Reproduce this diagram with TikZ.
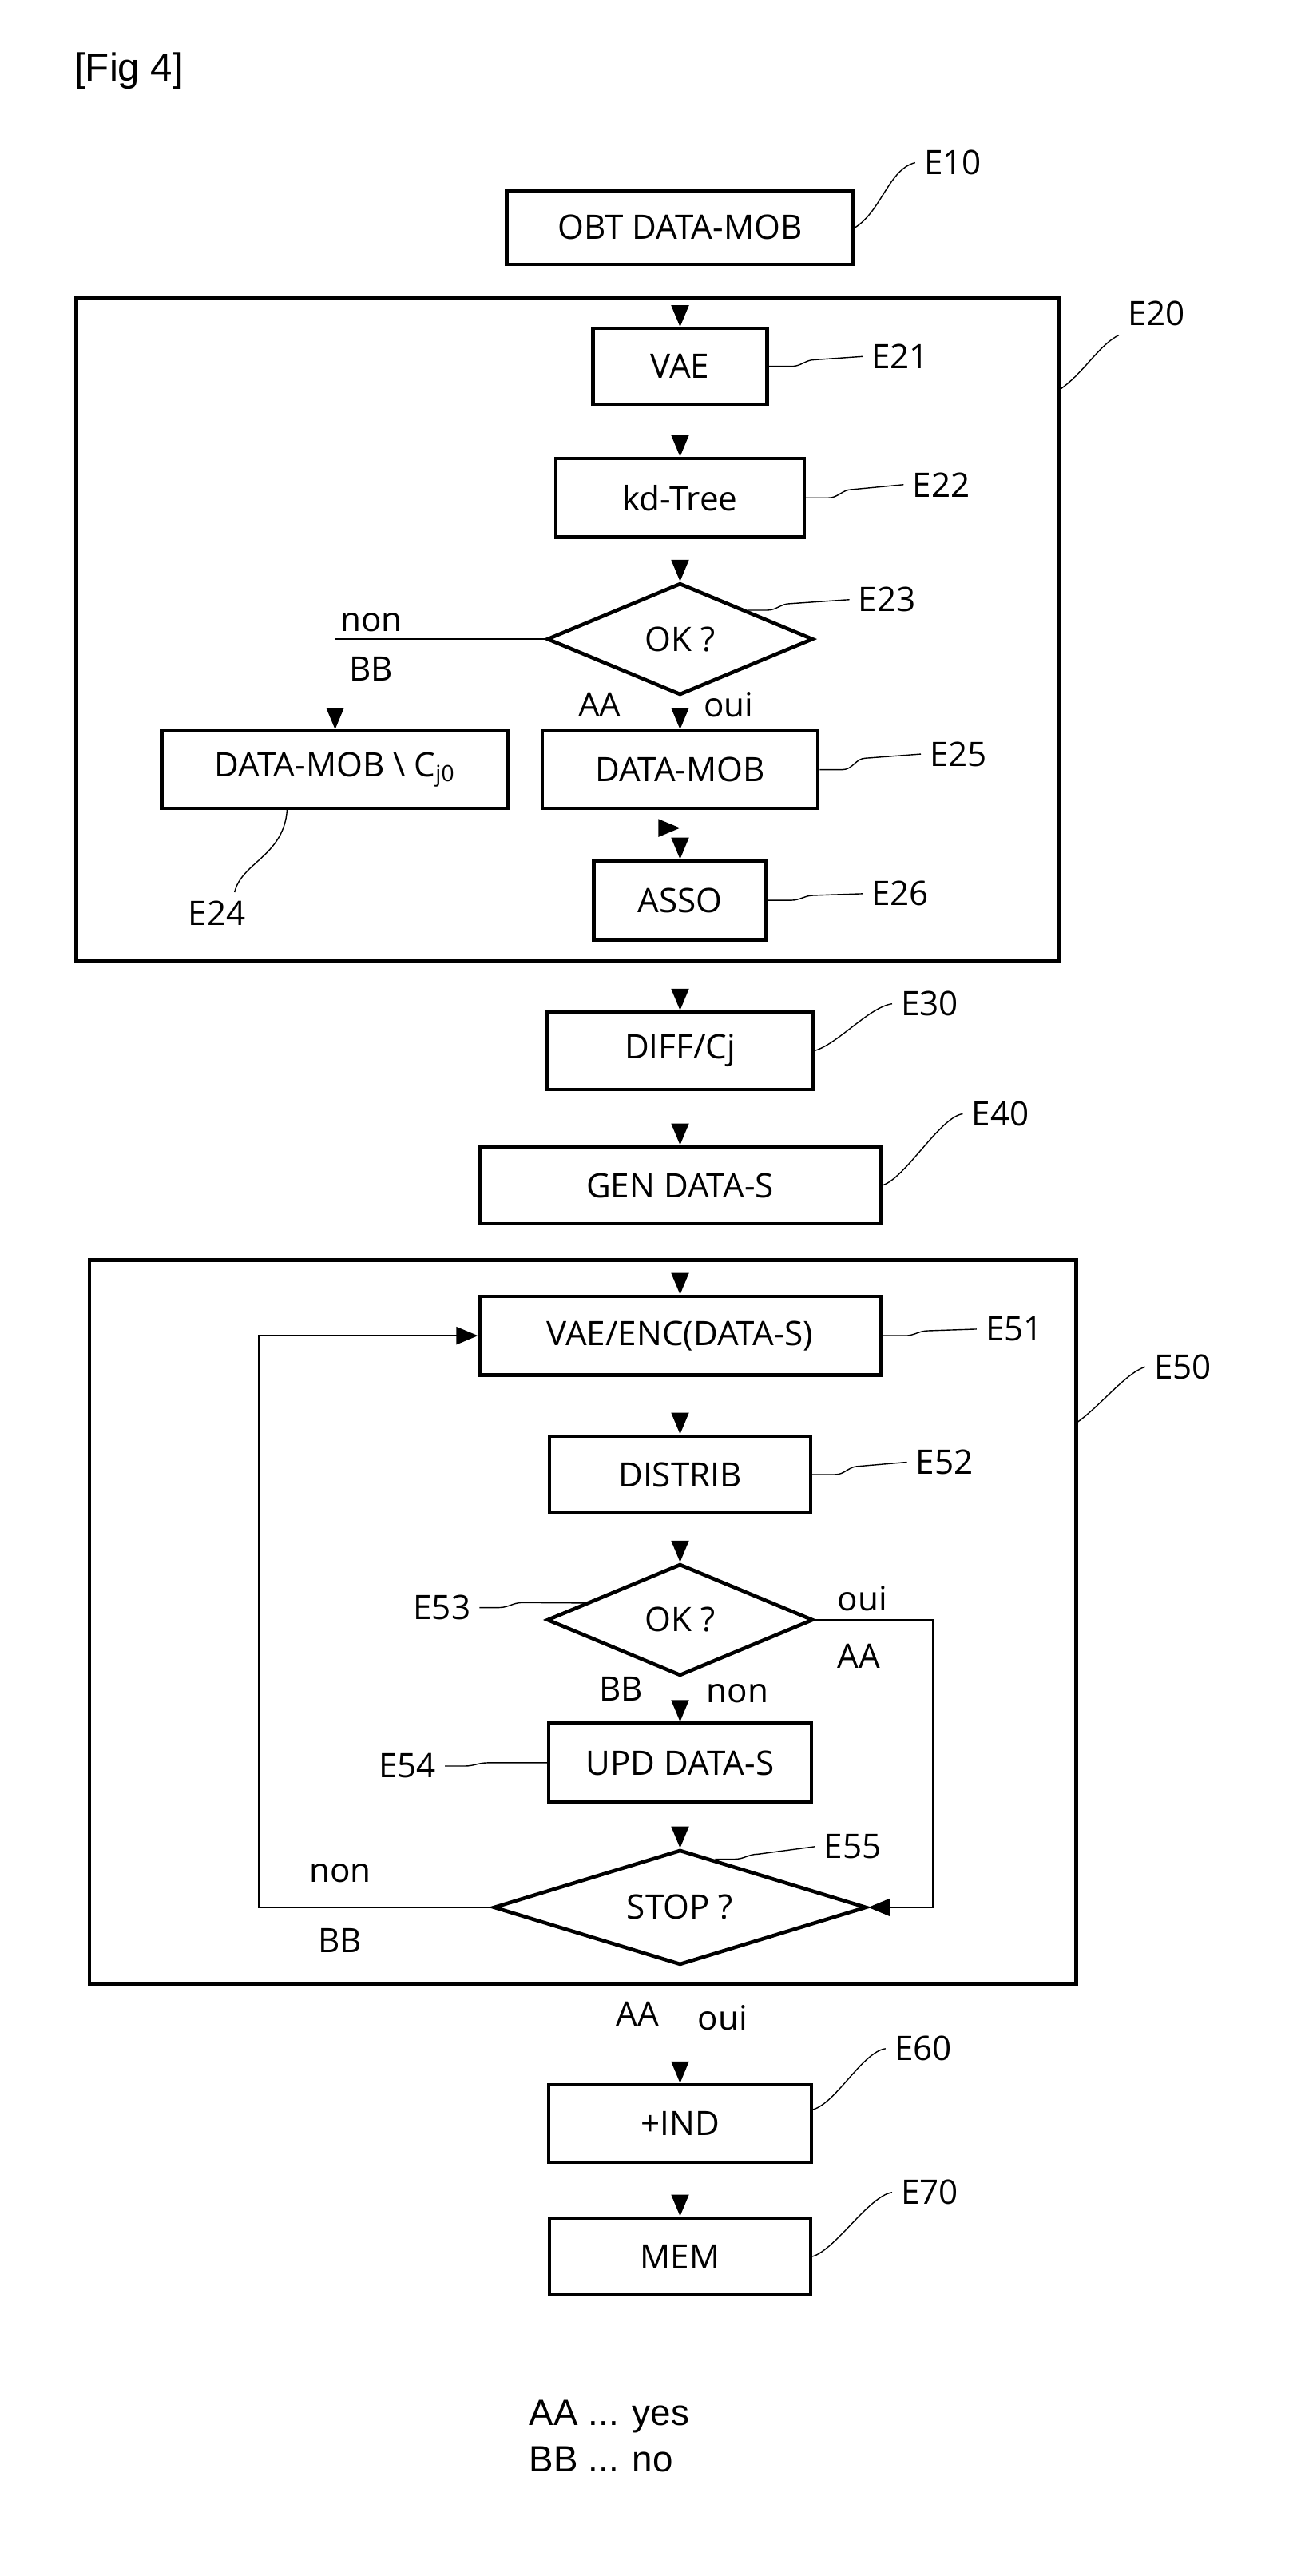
\documentclass[tikz,border=0pt]{standalone}
\usepackage{fontspec}
\setmainfont{Open Sans}
\newfontfamily\keyfont{Liberation Sans}
\usetikzlibrary{shapes.geometric,arrows.meta}
\newcommand{\pxu}{0.020556cm}
\begin{document}
\begin{tikzpicture}[x=\pxu, y=-\pxu, font=\fontsize{12}{14}\selectfont]
    \tikzstyle{stepbox}=[rectangle, draw, line width=1.2pt, inner sep=0pt]
    \tikzstyle{test}=[diamond, draw, line width=1.3pt, inner sep=0pt, aspect=2.4]
    \tikzstyle{grpframe}=[rectangle, draw, line width=1.3pt, inner sep=0pt]
    \tikzstyle{arr}=[line width=0.5pt, -{Triangle[length=0.27cm, width=0.22cm]}]
    \tikzstyle{lead}=[line width=0.4pt]
    \tikzstyle{ref}=[inner sep=3pt]
    \tikzstyle{keytext}=[inner sep=0pt, font=\keyfont\fontsize{14}{16.4}\selectfont]
    \useasboundingbox (0,0) rectangle (792,1568);

    \node[keytext, anchor=west] (figlabel) at (45,43) {[Fig 4]};

    \node[grpframe, minimum width=598.5*\pxu, minimum height=404*\pxu] (grp20) at (345.7,383) {};
    \node[grpframe, minimum width=600.5*\pxu, minimum height=440.5*\pxu] (grp50) at (354.8,987.2) {};

    \node[stepbox, minimum width=211*\pxu, minimum height=45*\pxu] (obt) at (414,138.5) {OBT DATA-MOB};
    \node[stepbox, minimum width=106*\pxu, minimum height=46*\pxu] (vae) at (414,223) {VAE};
    \node[stepbox, minimum width=151*\pxu, minimum height=48*\pxu] (kdtree) at (414,303) {kd-Tree};
    \node[test, minimum width=162*\pxu, minimum height=68*\pxu] (ok1) at (414,389) {OK ?};
    \node[stepbox, minimum width=211*\pxu, minimum height=47*\pxu] (cj0) at (204,468.5) {DATA-MOB \textbackslash{} C\textsubscript{j0}};
    \node[stepbox, minimum width=168*\pxu, minimum height=47*\pxu] (datamob) at (414,468.5) {DATA-MOB};
    \node[stepbox, minimum width=105*\pxu, minimum height=48*\pxu] (asso) at (414,548) {ASSO};
    \node[stepbox, minimum width=162*\pxu, minimum height=47*\pxu] (diff) at (414,639.5) {DIFF/Cj};
    \node[stepbox, minimum width=244*\pxu, minimum height=47*\pxu] (gen) at (414,721.5) {GEN DATA-S};
    \node[stepbox, minimum width=244*\pxu, minimum height=48*\pxu] (vaeenc) at (414,813) {VAE/ENC(DATA-S)};
    \node[stepbox, minimum width=159*\pxu, minimum height=47*\pxu] (distrib) at (414,897.5) {DISTRIB};
    \node[test, minimum width=162*\pxu, minimum height=68*\pxu] (ok2) at (414,986) {OK ?};
    \node[stepbox, minimum width=160*\pxu, minimum height=48*\pxu] (upd) at (414,1073) {UPD DATA-S};
    \node[test, minimum width=227*\pxu, minimum height=70*\pxu] (stop) at (414,1161) {STOP ?};
    \node[stepbox, minimum width=160*\pxu, minimum height=47*\pxu] (ind) at (414,1292.5) {+IND};
    \node[stepbox, minimum width=159*\pxu, minimum height=47*\pxu] (mem) at (414,1373.5) {MEM};

    \node[ref] (e10) at (580,99) {E10};
    \node[ref] (e20) at (704,191) {E20};
    \node[ref] (e21) at (548,217) {E21};
    \node[ref] (e22) at (573,295) {E22};
    \node[ref] (e23) at (540,365) {E23};
    \node[ref] (e24) at (132,556) {E24};
    \node[ref] (e25) at (583.5,459) {E25};
    \node[ref] (e26) at (548,544) {E26};
    \node[ref] (e30) at (566,611) {E30};
    \node[ref] (e40) at (609,678) {E40};
    \node[ref] (e50) at (720,832) {E50};
    \node[ref] (e51) at (617.5,809) {E51};
    \node[ref] (e52) at (575,890) {E52};
    \node[ref] (e53) at (269,978.5) {E53};
    \node[ref] (e54) at (248,1075) {E54};
    \node[ref] (e55) at (519,1124) {E55};
    \node[ref] (e60) at (562,1247) {E60};
    \node[ref] (e70) at (566,1334.5) {E70};

    \node (non1) at (226,379) {non};
    \node (bb1) at (226,407) {BB};
    \node (aa1) at (365,429) {AA};
    \node (oui1) at (443.5,429) {oui};
    \node (oui2) at (525,973) {oui};
    \node (aa2) at (523,1008) {AA};
    \node (bb2) at (378,1028) {BB};
    \node (non2) at (449,1031) {non};
    \node (non3) at (207,1140) {non};
    \node (bb3) at (207,1181) {BB};
    \node (aa3) at (388,1226) {AA};
    \node (oui3) at (440,1228) {oui};

    \coordinate (join) at (414,504);
    \coordinate (ouiturn) at (568,986);
    \coordinate (loopturn) at (157.6,1161);

    \draw[arr] (obt.south) -- (vae.north);
    \draw[arr] (vae.south) -- (kdtree.north);
    \draw[arr] (kdtree.south) -- (ok1.north);
    \draw[arr] (ok1.west) -| (cj0.north);
    \draw[arr] (ok1.south) -- (datamob.north);
    \draw[arr] (cj0.south) |- (join);
    \draw[arr] (datamob.south) -- (asso.north);
    \draw[arr] (asso.south) -- (diff.north);
    \draw[arr] (diff.south) -- (gen.north);
    \draw[arr] (gen.south) -- (vaeenc.north);
    \draw[arr] (vaeenc.south) -- (distrib.north);
    \draw[arr] (distrib.south) -- (ok2.north);
    \draw[arr] (ok2.south) -- (upd.north);
    \draw[arr] (ok2.east) -- (ouiturn) |- (stop.east);
    \draw[arr] (upd.south) -- (stop.north);
    \draw[arr] (stop.west) -- (loopturn) |- (vaeenc.west);
    \draw[arr] (stop.south) -- (ind.north);
    \draw[arr] (ind.south) -- (mem.north);

    \draw[lead] (obt.east) .. controls +(16,-10) and +(-16,4) .. (e10.west);
    \draw[lead] (grp20.26) .. controls +(14,-10) and +(-12,6) .. (e20.south west);
    \draw[lead] (vae.east) -- ++(14,0) to[out=0,in=180] ++(14,-4) -- (e21.west);
    \draw[lead] (kdtree.east) -- ++(14,0) to[out=0,in=180] ++(14,-5) -- (e22.west);
    \draw[lead] (ok1.north east) -- ++(12,0) to[out=0,in=180] ++(14,-4) -- (e23.west);
    \draw[lead] (cj0.220) .. controls +(-2,28) and +(4,-18) .. (e24.50);
    \draw[lead] (datamob.east) -- ++(14,0) to[out=0,in=180] ++(14,-7) -- (e25.west);
    \draw[lead] (asso.east) -- ++(14,0) to[out=0,in=180] ++(14,-3) -- (e26.west);
    \draw[lead] (diff.east) .. controls +(14,-4) and +(-14,2) .. (e30.west);
    \draw[lead] (gen.east) .. controls +(14,-4) and +(-14,2) .. (e40.west);
    \draw[lead] (grp50.22) .. controls +(14,-10) and +(-12,4) .. (e50.west);
    \draw[lead] (vaeenc.east) -- ++(14,0) to[out=0,in=180] ++(14,-3) -- (e51.west);
    \draw[lead] (distrib.east) -- ++(14,0) to[out=0,in=180] ++(14,-5) -- (e52.west);
    \draw[lead] (e53.east) -- ++(12,0) to[out=0,in=180] ++(14,-3) -- (ok2.170);
    \draw[lead] (e54.east) -- ++(12,0) to[out=0,in=180] ++(14,-2) -- (upd.west);
    \draw[lead] (stop.54) -- ++(12,0) to[out=0,in=180] ++(14,-3) -- (e55.west);
    \draw[lead] (ind.6) .. controls +(14,-4) and +(-14,2) .. (e60.west);
    \draw[lead] (mem.east) .. controls +(14,-4) and +(-14,2) .. (e70.west);

    \node[keytext, font=\keyfont\fontsize{13}{16.4}\selectfont, anchor=west, align=left] (key) at (322,1483) {AA ... yes\\BB ... no};
\end{tikzpicture}
\end{document}
